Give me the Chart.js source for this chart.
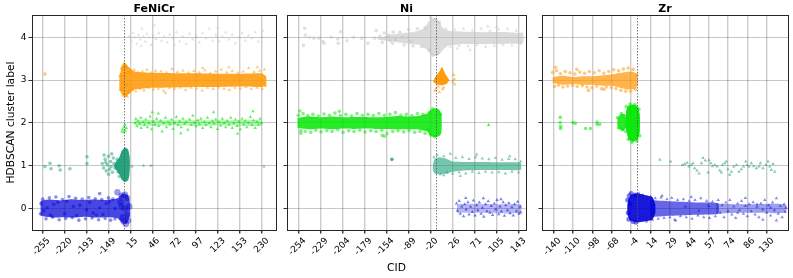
<!DOCTYPE html>
<html>
<head>
<meta charset="utf-8">
<script src="https://cdn.jsdelivr.net/npm/chart.js@4/dist/chart.umd.min.js"></script>
<style>
  body { margin: 0; background: #fff; }
  #wrap { position: relative; width: 793px; height: 278px; }
  canvas { position: absolute; top: 0; }
  #cid { position: absolute; left: 0; width: 793px; top: 260px; text-align: center;
         font: 10.7px "DejaVu Sans"; line-height: 15px; }
</style>
</head>
<body>
<div id="wrap">
  <canvas id="c1" width="280" height="278" style="left:0px"></canvas>
  <canvas id="c2" width="250" height="278" style="left:280px"></canvas>
  <canvas id="c3" width="261" height="278" style="left:532px"></canvas>
  <div id="cid">CID</div>
</div>
<script>
// tick labels (x positions are tick indices 0..n-1)
const feNiCrTicks = ['-255', '-220', '-193', '-149', '15', '46', '72', '97', '123', '153', '230'];
const niTicks = ['-254', '-229', '-204', '-179', '-154', '-89', '-20', '26', '71', '105', '143'];
const zrTicks = ['-140', '-110', '-98', '-68', '-4', '14', '29', '44', '57', '74', '86', '130'];
const yTicks = [0, 1, 2, 3, 4];

// CID = 0 split position, in tick-index units
const feNiCrCut = 3.73;
const niCut = 6.26;
const zrCut = 4.29;

// ---------- FeNiCr ----------
const feBlueCore = [[-0.1,0.18],[0.3,0.21],[0.8,0.19],[1.3,0.22],[1.8,0.2],[2.3,0.21],[2.8,0.2],[3.2,0.22],[3.45,0.25],[3.55,0.32],[3.75,0.35],[3.9,0.3],[3.98,0.15],
  [3.98,-0.15],[3.9,-0.3],[3.75,-0.36],[3.55,-0.3],[3.4,-0.22],[2.9,-0.2],[2.4,-0.21],[1.9,-0.19],[1.4,-0.21],[0.9,-0.2],[0.4,-0.21],[-0.1,-0.17]];
const feBluePts = [[0.0,0.22],[0.15,-0.24],[0.3,0.25],[0.45,-0.2],[0.6,0.27],[0.75,-0.26],[0.9,0.21],[1.05,-0.23],[1.2,0.28],[1.35,-0.21],[1.5,0.24],[1.65,-0.27],[1.8,0.22],[1.95,-0.24],[2.1,0.26],[2.25,-0.22],[2.4,0.23],[2.55,-0.26],[2.6,0.35],[2.7,0.21],[2.85,-0.23],[3.0,0.25],[3.1,-0.27],[3.2,0.22],[3.3,-0.24],[0.05,-0.05],[0.5,0.1],[1.0,-0.12],[1.7,0.08],[2.3,-0.1],[2.9,0.12],[-0.08,0.12],[-0.1,-0.12],[0.2,0.02],[1.4,0.05],[2.0,-0.03],[2.6,0.02],[3.3,0.0],[0.35,-0.15],[0.7,0.15],[1.1,0.17],[1.55,-0.16],[2.15,0.14],[2.45,-0.15],[2.75,-0.14],[3.05,0.16]];
const feBlueBig = [[3.41,0.38],[3.6,0.3],[3.75,0.33],[3.85,0.25],[3.7,-0.3],[3.8,-0.36],[3.9,-0.28],[3.65,-0.2],[3.55,0.15],[3.95,0.05],[3.75,0.0],[3.85,-0.15],[3.6,0.05]];
const feTealCore = [[3.75,1.43],[3.9,1.38],[3.97,1.2],[3.98,1.0],[3.96,0.8],[3.9,0.66],[3.75,0.62],[3.6,0.68],[3.5,0.8],[3.35,0.9],[3.25,1.0],[3.35,1.1],[3.5,1.2],[3.6,1.35]];
const feTealPts = [[0.1,0.98],[0.33,1.06],[0.38,0.93],[0.75,1.0],[0.8,0.9],[1.24,0.93],[2.02,1.21],[2.02,1.05],[2.72,1.05],[2.78,0.95],[2.85,1.15],[2.9,0.88],[2.95,1.02],[3.0,1.22],[3.05,0.92],[3.1,1.1],[3.12,0.98],[3.18,0.85],[3.22,1.18],[3.25,1.05],[2.8,1.25],[3.0,0.8],[3.15,1.28],[2.88,1.08],[3.4,1.15],[3.3,0.95],[3.5,0.75],[3.45,0.85]];
const feTealTri = [[4.08,0.98],[4.6,1.0],[4.94,1.0],[10.1,0.98]];
const feGreenCore = [[4.2,2.06],[5,2.07],[6,2.06],[7,2.07],[8,2.06],[9,2.07],[10,2.06],[10,1.94],[9,1.93],[8,1.94],[7,1.93],[6,1.94],[5,1.93],[4.2,1.94]];
const feGreenTri = [[3.65,1.85],[3.72,1.9],[3.78,1.82],[3.7,1.78],[3.82,1.88],[3.75,1.95],[3.62,1.8],
  [4.2,2.0],[4.25,2.1],[4.3,1.92],[4.35,2.05],[4.42,1.98],[4.48,2.12],[4.5,1.88],[4.58,2.02],[4.65,1.95],[4.7,2.08],[4.78,1.9],[4.85,2.0],[4.9,2.15],[4.97,1.85],[5.05,2.03],[5.12,1.96],[5.2,2.1],[5.28,2.22],[5.3,1.93],[5.38,2.05],[5.45,1.8],[5.52,2.0],[5.6,2.12],[5.65,1.9],[5.72,2.02],[5.8,1.97],[5.88,2.08],[5.95,1.86],[6.02,2.0],[6.1,2.14],[6.18,1.95],[6.25,2.04],[6.32,1.9],[6.4,2.1],[6.48,1.98],[6.55,2.02],[6.62,1.84],[6.7,2.08],[6.78,1.95],[6.85,2.17],[6.92,2.0],[7.0,1.92],[7.08,2.06],[7.15,1.97],[7.22,2.1],[7.3,1.88],[7.38,2.02],[7.45,1.95],[7.52,2.12],[7.6,2.0],[7.68,1.9],[7.75,2.05],[7.82,1.98],[7.9,2.08],[7.98,1.86],[8.05,2.02],[8.12,1.94],[8.2,2.1],[8.28,2.0],[8.35,1.9],[8.42,2.05],[8.5,1.96],[8.58,2.12],[8.65,1.88],[8.72,2.0],[8.8,2.08],[8.88,1.93],[8.95,2.03],[9.02,1.85],[9.1,2.1],[9.18,1.97],[9.25,2.05],[9.32,1.9],[9.4,2.0],[9.48,2.14],[9.55,1.95],[9.62,2.06],[9.7,1.88],[9.78,2.02],[9.85,1.96],[9.92,2.1],[9.98,2.0],[5.0,2.25],[7.8,2.25],[9.6,2.27],[6.3,1.76],[8.9,1.75]];
const feOrangeCore = [[3.5,3.05],[3.6,3.3],[3.75,3.4],[3.9,3.32],[4.2,3.2],[5,3.17],[6,3.16],[7,3.16],[8,3.15],[9,3.15],[10,3.16],[10.2,3.08],
  [10.2,2.88],[10,2.84],[9,2.85],[8,2.84],[7,2.84],[6,2.83],[5,2.82],[4.2,2.78],[3.9,2.66],[3.75,2.62],[3.6,2.68],[3.5,2.8]];
const feOrangeDot = [[0.1,3.14]];
const feOrangeTri = [[4.0,3.22],[4.1,2.78],[4.18,3.25],[4.25,2.74],[4.35,3.18],[4.45,2.8],[4.55,3.2],[4.62,2.76],[4.75,3.24],[4.85,2.82],[4.95,3.17],[5.05,2.78],[5.15,3.22],[5.28,2.8],[5.4,3.2],[5.52,2.75],[5.65,3.18],[5.78,2.82],[5.9,3.26],[6.02,2.79],[6.15,3.19],[6.28,2.83],[6.4,3.22],[6.52,2.77],[6.65,3.17],[6.78,2.82],[6.9,3.21],[7.02,2.8],[7.15,3.18],[7.28,2.76],[7.4,3.23],[7.52,2.82],[7.65,3.16],[7.78,2.79],[7.9,3.2],[8.02,2.83],[8.15,3.24],[8.28,2.8],[8.4,3.18],[8.52,2.77],[8.65,3.21],[8.78,2.82],[8.9,3.17],[9.02,2.8],[9.15,3.2],[9.28,2.84],[9.4,3.28],[9.52,2.79],[9.65,3.19],[9.78,2.82],[9.9,3.22],[10.02,2.8],[10.12,3.25],[10.18,2.86],[8.5,3.3],[7.3,3.28],[5.6,2.7],[9.8,3.3]];
const feOrangeBig = [[3.55,3.1],[3.62,3.28],[3.72,3.37],[3.82,3.3],[3.9,3.18],[3.58,2.78],[3.7,2.65],[3.82,2.63],[3.92,2.72],[3.65,2.95],[3.85,2.9],[3.75,3.1]];
const feGreyTri = [[3.95,4.02],[4.05,3.9],[4.12,4.1],[4.2,4.0],[4.3,3.85],[4.38,4.05],[4.45,3.95],[4.52,4.2],[4.6,4.02],[4.68,3.9],[4.75,4.08],[4.85,4.0],[4.95,3.82],[5.05,4.05],[5.1,4.28],[5.18,3.96],[5.3,4.1],[5.42,3.92],[5.55,4.02],[5.68,3.88],[5.8,4.06],[5.95,3.98],[6.1,4.12],[6.25,3.9],[6.4,4.02],[6.55,3.85],[6.7,4.08],[6.85,3.95],[7.0,4.04],[7.15,3.88],[7.3,4.1],[7.45,3.98],[7.6,4.2],[7.75,3.92],[7.9,4.05],[8.05,3.9],[8.2,4.02],[8.35,4.12],[8.5,3.95],[8.65,4.06],[8.8,3.86],[8.95,4.0],[9.1,4.1],[9.25,3.92],[9.4,4.04],[9.55,3.98],[9.7,4.12],[9.85,3.9],[10.0,4.02],[10.05,4.15],[4.5,3.8],[6.0,3.82],[8.0,4.22]];

// ---------- Ni ----------
const niGreyCore = [[3.6,3.98],[4.2,4.06],[4.8,4.1],[5.4,4.14],[5.75,4.22],[5.9,4.36],[6.05,4.45],[6.25,4.45],[6.4,4.36],[6.55,4.22],[6.8,4.15],[7.5,4.13],[8.5,4.12],[9.5,4.12],[10.2,4.08],
  [10.2,3.86],[9.5,3.85],[8.5,3.84],[7.5,3.84],[6.8,3.8],[6.55,3.7],[6.4,3.6],[6.2,3.56],[6.0,3.6],[5.85,3.7],[5.5,3.82],[4.8,3.86],[4.2,3.9],[3.6,3.94]];
const niGreyDots = [[0.27,4.21],[0.3,4.05],[0.22,3.81],[0.69,3.98],[0.92,3.98],[1.1,3.9],[1.15,3.86],[1.48,4.0],[1.78,3.96],[1.8,3.86],[1.91,4.13],[2.2,3.92],[2.87,3.98],[3.15,3.86],[3.53,4.16],[3.45,3.98],[4.0,4.0],[4.1,4.05],[4.15,3.92],[4.27,3.86],[3.7,4.02],[2.5,4.0],[0.5,4.0],
  [4.6,4.12],[4.8,3.82],[5.0,4.18],[5.2,3.8],[5.4,4.2],[5.6,3.78],[5.75,4.22],[4.7,4.0],[4.4,3.95],[6.0,4.45],[6.2,4.4],[6.1,3.58],[6.3,3.62],[5.95,3.7],[6.4,4.35],[3.8,3.88],[4.3,4.12],[3.9,4.1],[5.1,3.9]];
const niGreyTri = [[6.7,4.2],[6.9,3.78],[7.1,4.18],[7.3,3.8],[7.5,4.2],[7.7,3.79],[7.9,4.16],[8.1,3.82],[8.3,4.2],[8.5,3.78],[8.7,4.15],[8.9,3.8],[9.1,4.18],[9.3,3.82],[9.5,4.2],[9.7,3.8],[9.9,4.15],[10.1,3.85],[10.15,4.1],[7.8,3.7],[8.6,4.25],[7.2,3.74],[9.0,4.24]];
const niOrangeCore = [[6.52,3.32],[6.7,3.12],[6.85,3.0],[6.75,2.92],[6.55,2.88],[6.3,2.9],[6.12,2.96],[6.25,3.1],[6.4,3.2]];
const niOrangeTri = [[6.25,2.8],[6.4,2.72],[6.55,2.78],[6.35,2.85],[6.6,2.83],[6.2,2.75],[7.05,3.12],[7.08,3.02],[7.02,2.95],[7.1,2.9]];
const niGreenCore = [[-0.05,2.12],[0.5,2.15],[1,2.13],[1.5,2.15],[2,2.13],[2.5,2.14],[3,2.14],[3.5,2.13],[4,2.14],[4.5,2.16],[5,2.15],[5.5,2.17],[5.85,2.22],[6.0,2.3],[6.2,2.34],[6.4,2.3],[6.5,2.2],
  [6.5,1.8],[6.4,1.7],[6.2,1.66],[6.0,1.7],[5.85,1.8],[5.5,1.84],[5,1.85],[4.5,1.85],[4,1.86],[3.5,1.86],[3,1.87],[2.5,1.86],[2,1.87],[1.5,1.85],[1,1.87],[0.5,1.85],[-0.05,1.88]];
const niGreenDots = [[-0.02,2.18],[0.1,1.82],[0.2,2.22],[0.3,1.8],[0.42,2.17],[0.55,1.78],[0.65,2.2],[0.78,1.83],[0.9,2.16],[1.02,1.79],[1.15,2.21],[1.28,1.82],[1.4,2.18],[1.52,1.8],[1.65,2.23],[1.78,1.84],[1.9,2.17],[2.02,1.78],[2.15,2.2],[2.28,1.82],[2.4,2.16],[2.52,1.8],[2.65,2.22],[2.78,1.83],[2.9,2.18],[3.02,1.79],[3.15,2.2],[3.28,1.82],[3.4,2.17],[3.52,1.8],[3.65,2.22],[3.78,1.83],[3.9,2.18],[4.02,1.75],[4.15,2.2],[4.28,1.8],[4.4,2.24],[4.52,1.82],[4.65,2.18],[4.78,1.79],[4.9,2.2],[5.02,1.82],[5.15,2.17],[5.28,1.78],[5.4,2.22],[5.52,1.8],[5.65,2.2],[5.75,1.76],[0.05,2.28],[1.85,2.27],[3.8,1.71],[3.9,1.69],[0.1,1.76],
  [5.95,2.25],[6.1,2.33],[6.3,2.3],[6.45,2.2],[6.0,1.72],[6.2,1.68],[6.4,1.75],[5.9,1.85]];
const niGreenTri = [[8.64,1.95]];
const niTealDot = [[4.24,1.15]];
const niTealCore = [[6.1,1.02],[6.18,1.16],[6.4,1.2],[6.75,1.16],[7.0,1.1],[7.5,1.09],[8.5,1.09],[9.5,1.08],[10.1,1.07],[10.1,0.9],[9.5,0.9],[8.5,0.9],[7.5,0.89],[7.0,0.86],[6.75,0.82],[6.4,0.8],[6.18,0.82],[6.1,0.9]];
const niTealTri = [[6.15,1.2],[6.3,1.25],[6.45,0.8],[6.6,1.22],[6.75,0.84],[6.9,1.28],[7.0,0.82],[7.15,1.18],[7.3,0.85],[7.45,1.2],[7.6,0.82],[7.75,1.16],[7.9,0.86],[8.05,1.2],[8.2,0.83],[8.35,1.17],[8.5,0.86],[8.65,1.15],[8.8,0.84],[8.95,1.18],[9.1,0.85],[9.25,1.14],[9.4,0.82],[9.55,1.16],[9.7,0.86],[9.85,1.15],[10.0,0.84],[10.1,1.1],[7.35,0.76],[8.1,1.26],[9.6,1.22],[6.6,0.78]];
const niBlueCore = [[7.2,0.1],[8,0.11],[9,0.1],[10.1,0.1],[10.1,-0.1],[9,-0.11],[8,-0.1],[7.2,-0.1]];
const niBlueTri = [[7.18,0.12],[7.22,-0.05],[7.3,0.18],[7.35,-0.12],[7.42,0.05],[7.5,-0.18],[7.55,0.1],[7.62,-0.02],[7.7,0.15],[7.75,-0.14],[7.82,0.04],[7.9,-0.08],[7.95,0.19],[8.02,-0.16],[8.1,0.08],[8.15,-0.04],[8.22,0.14],[8.3,-0.12],[8.36,0.02],[8.42,-0.19],[8.5,0.1],[8.56,-0.06],[8.62,0.17],[8.7,-0.1],[8.76,0.06],[8.82,-0.15],[8.9,0.12],[8.96,-0.02],[9.02,0.2],[9.1,-0.13],[9.16,0.05],[9.22,-0.07],[9.3,0.15],[9.36,-0.17],[9.42,0.08],[9.5,-0.04],[9.56,0.13],[9.62,-0.11],[9.7,0.03],[9.76,-0.16],[9.82,0.1],[9.9,-0.06],[9.96,0.16],[10.02,-0.12],[10.08,0.04],[10.1,-0.09],[7.6,0.25],[8.4,0.24],[9.2,0.22]];

// ---------- Zr ----------
const zrOrangeCore = [[-0.05,3.07],[0.5,3.1],[1,3.07],[1.5,3.09],[2,3.09],[2.5,3.11],[3,3.13],[3.5,3.17],[4,3.2],[4.3,3.15],[4.35,3.0],
  [4.35,2.88],[4.2,2.8],[3.8,2.78],[3.3,2.84],[3,2.87],[2.5,2.87],[2,2.89],[1.5,2.89],[1,2.91],[0.5,2.89],[-0.05,2.93]];
const zrOrangeDots = [[-0.05,3.18],[0.05,2.85],[0.15,3.22],[0.25,2.88],[0.35,3.15],[0.48,2.84],[0.6,3.2],[0.72,2.86],[0.85,3.17],[0.98,2.88],[1.1,3.14],[1.22,2.85],[1.35,3.19],[1.48,2.87],[1.6,3.16],[1.72,2.84],[1.85,3.2],[1.98,2.82],[2.1,3.17],[2.22,2.86],[2.35,3.22],[2.48,2.8],[2.6,3.16],[2.72,2.84],[2.85,3.2],[2.98,2.82],[3.1,3.24],[3.22,2.8],[3.35,3.22],[3.48,2.76],[3.6,3.26],[3.72,2.74],[3.85,3.28],[3.98,2.74],[4.1,3.25],[4.22,2.78],[4.3,3.12],[1.8,2.76],[2.6,2.78],[0.1,3.3],[1.2,3.25]];
const zrGreenCore = [[3.75,2.3],[3.85,2.4],[4.1,2.43],[4.35,2.38],[4.45,2.2],[4.45,1.8],[4.35,1.62],[4.1,1.56],[3.9,1.6],[3.8,1.72],[3.72,1.9],[3.72,2.1]];
const zrGreenSide = [[3.3,2.1],[3.45,2.2],[3.7,2.2],[3.75,1.9],[3.6,1.82],[3.4,1.85],[3.28,1.95]];
const zrGreenDots = [[0.34,2.13],[0.34,2.01],[0.36,1.92],[0.36,1.87],[1.0,2.01],[1.12,1.99],[1.65,1.87],[1.9,1.87],[2.24,2.02],[2.38,1.97],[2.24,1.97],
  [3.3,2.12],[3.35,1.88],[3.5,2.22],[3.55,1.84],[3.75,2.38],[3.95,2.44],[4.2,2.43],[4.4,2.32],[4.45,1.7],[4.3,1.58],[4.05,1.55],[3.85,1.62],[3.72,1.8]];
const zrTealTri = [[5.48,1.14],[6.04,1.1],[6.65,1.02],[6.77,1.04],[6.89,1.07],[6.99,0.98],[7.11,1.02],[7.2,1.06],[7.28,0.94],[7.4,0.89],[7.51,0.82],[7.63,1.06],[7.71,1.18],[7.83,1.12],[7.97,0.84],[8.02,1.13],[8.11,1.06],[8.2,0.99],[8.32,1.02],[8.44,0.98],[8.58,0.89],[8.66,0.84],[8.71,1.02],[8.83,1.06],[8.92,1.1],[9.0,0.92],[9.09,0.79],[9.18,0.86],[9.3,0.98],[9.44,1.02],[9.57,0.86],[9.69,0.92],[9.81,0.98],[9.92,1.1],[9.99,1.02],[10.09,0.98],[10.21,1.06],[10.33,0.99],[10.47,0.94],[10.61,0.98],[10.67,1.06],[10.81,0.94],[10.95,1.02],[11.07,1.1],[11.16,0.98],[11.24,0.9],[11.33,1.04],[11.42,0.86]];
const zrBlueBlob = [[3.85,0.22],[4.0,0.32],[4.3,0.36],[4.7,0.32],[5.1,0.27],[5.25,0.1],[5.25,-0.1],[5.1,-0.26],[4.7,-0.3],[4.3,-0.32],[3.95,-0.28],[3.82,-0.15],[3.8,0.05]];
const zrBlueBand = [[5.0,0.2],[6.0,0.17],[7.0,0.15],[8.0,0.14],[8.5,0.12],[8.5,-0.12],[8.0,-0.14],[7.0,-0.15],[6.0,-0.17],[5.0,-0.2]];
const zrBlueTail = [[8.4,0.12],[9.5,0.1],[10.5,0.1],[11.5,0.11],[12.0,0.08],[12.0,-0.08],[11.5,-0.11],[10.5,-0.1],[9.5,-0.1],[8.4,-0.12]];
const zrBlueDots = [[3.82,0.2],[3.9,0.3],[4.0,0.35],[4.1,-0.3],[3.88,-0.25],[3.95,0.1],[3.85,-0.1],[4.2,0.32],[4.25,-0.32]];
const zrBlueTri = [[4.4,0.36],[4.6,0.32],[4.8,-0.3],[5.0,0.28],[5.1,-0.26],[5.25,0.24],[5.4,-0.24],[5.55,0.26],[5.7,-0.22],[5.85,0.22],[6.0,-0.2],[6.1,0.25],[6.25,-0.26],[6.4,0.2],[6.55,-0.18],[6.7,0.22],[6.85,-0.2],[7.0,0.18],[7.15,-0.24],[7.3,0.2],[7.45,-0.16],[7.6,0.24],[7.75,-0.2],[7.9,0.18],[8.05,-0.22],[8.2,0.16],[8.35,-0.18],[8.5,0.2],[8.6,-0.1],[8.7,0.08],[8.8,-0.2],[8.9,0.14],[9.0,-0.06],[9.1,0.2],[9.2,-0.14],[9.3,0.05],[9.4,-0.22],[9.5,0.12],[9.6,-0.04],[9.7,0.18],[9.8,-0.12],[9.9,0.06],[10.0,-0.18],[10.1,0.1],[10.2,-0.06],[10.3,0.15],[10.4,-0.14],[10.5,0.04],[10.6,-0.2],[10.7,0.12],[10.8,-0.02],[10.9,0.2],[11.0,-0.1],[11.1,0.08],[11.2,-0.16],[11.3,0.14],[11.4,-0.04],[11.5,0.24],[11.6,-0.12],[11.7,0.06],[11.8,-0.2],[11.9,0.1],[11.95,-0.08],[12.0,0.02],[11.5,-0.28],[8.0,0.06],[7.5,-0.05],[6.8,0.04],[9.5,-0.1],[10.5,0.1],[11.2,0.02],[5.6,0.3],[6.3,-0.28],[7.1,0.27],[9.9,0.25],[10.8,-0.26]];

// cluster colours
const BLUE = '0,0,215', TEAL = '27,158,119', GREEN = '0,232,0', ORANGE = '255,150,0', GREY = '195,195,195';

const toXY = arr => arr.map(([x, y]) => ({ x, y }));

function blob(pts, rgb, a) {
  return { data: toXY(pts), showLine: true, fill: 'shape', tension: 0.15,
    backgroundColor: `rgba(${rgb},${a})`, borderColor: 'rgba(0,0,0,0)', borderWidth: 0,
    pointRadius: 0, order: 2 };
}
function dots(pts, rgb, a, style, r) {
  return { data: toXY(pts), backgroundColor: `rgba(${rgb},${a})`, borderWidth: 0,
    pointStyle: style, pointRadius: r, order: 1 };
}

const framePlugin = {
  id: 'frame',
  afterDatasetsDraw(chart, args, opts) {
    const { ctx, chartArea: a, scales: { x } } = chart;
    const px = Math.round(x.getPixelForValue(opts.cut)) + 0.5;
    ctx.save();
    ctx.strokeStyle = '#555';
    ctx.lineWidth = 0.8;
    ctx.setLineDash([1.5, 1.5]);
    ctx.beginPath();
    ctx.moveTo(px, a.top);
    ctx.lineTo(px, a.bottom);
    ctx.stroke();
    ctx.setLineDash([]);
    ctx.strokeStyle = '#262626';
    ctx.lineWidth = 1;
    ctx.strokeRect(Math.round(a.left) + 0.5, Math.round(a.top) + 0.5, Math.round(a.right - a.left), Math.round(a.bottom - a.top));
    ctx.restore();
  }
};

Chart.defaults.font.family = 'DejaVu Sans';
Chart.defaults.color = '#000';

function makeChart(id, title, ticks, xMin, xMax, cut, yW, padR, showY, datasets) {
  return new Chart(document.getElementById(id), {
    type: 'scatter',
    data: { datasets: datasets },
    options: {
      responsive: false,
      animation: false,
      layout: { padding: { left: 0, right: padR, top: 0, bottom: 0 } },
      plugins: { legend: { display: false }, tooltip: { enabled: false }, frame: { cut: cut } },
      scales: {
        x: {
          type: 'linear', min: xMin, max: xMax,
          afterBuildTicks: s => { s.ticks = ticks.map((t, i) => ({ value: i })); },
          afterFit: s => { s.height = 48; },
          border: { display: false },
          grid: { color: 'rgba(0,0,0,0.2)', lineWidth: 1.4, tickLength: 3.5, tickColor: '#333' },
          ticks: { autoSkip: false, minRotation: 45, maxRotation: 45, padding: 2, labelOffset: 6,
            font: { size: 9 }, callback: (v, i) => ticks[i] }
        },
        top: {
          type: 'linear', position: 'top', min: xMin, max: xMax,
          afterFit: s => { s.height = 15; },
          border: { display: false },
          grid: { display: false },
          ticks: { display: false },
          title: { display: true, text: title, font: { size: 11, weight: 'bold' }, padding: { top: 3, bottom: 0 } }
        },
        y: {
          min: -0.5, max: 4.52,
          afterBuildTicks: s => { s.ticks = yTicks.map(v => ({ value: v })); },
          afterFit: s => { s.width = yW; },
          border: { display: false },
          grid: { color: 'rgba(0,0,0,0.22)', lineWidth: 1, tickLength: 3.5, tickColor: '#333' },
          ticks: { display: showY, padding: 2, font: { size: 9 } },
          title: { display: showY, text: 'HDBSCAN cluster label', font: { size: 10.7 }, padding: { top: 4.5, bottom: 0 } }
        }
      }
    },
    plugins: [framePlugin]
  });
}

makeChart('c1', 'FeNiCr', feNiCrTicks, -0.49, 10.65, feNiCrCut, 32, 2, true, [
  dots(feBluePts, BLUE, 0.45, 'circle', 1.8),
  dots(feBlueBig, BLUE, 0.4, 'circle', 3.2),
  dots(feTealPts, TEAL, 0.5, 'circle', 1.8),
  dots(feTealTri, TEAL, 0.5, 'triangle', 2),
  dots(feGreenTri, GREEN, 0.6, 'triangle', 2),
  dots(feOrangeDot, ORANGE, 0.5, 'circle', 1.8),
  dots(feOrangeTri, ORANGE, 0.5, 'triangle', 2),
  dots(feOrangeBig, ORANGE, 0.6, 'triangle', 3),
  dots(feGreyTri, GREY, 0.45, 'triangle', 2),
  blob(feBlueCore, BLUE, 0.72),
  blob(feTealCore, TEAL, 0.95),
  blob(feGreenCore, GREEN, 0.3),
  blob(feOrangeCore, ORANGE, 0.85)
]);

makeChart('c2', 'Ni', niTicks, -0.53, 10.34, niCut, 7, 3, false, [
  dots(niGreyDots, GREY, 0.5, 'circle', 1.8),
  dots(niGreyTri, GREY, 0.5, 'triangle', 2),
  dots(niOrangeTri, ORANGE, 0.5, 'triangle', 2.2),
  dots(niGreenDots, GREEN, 0.5, 'circle', 1.8),
  dots(niGreenTri, GREEN, 0.7, 'triangle', 2),
  dots(niTealDot, TEAL, 0.8, 'circle', 1.8),
  dots(niTealTri, TEAL, 0.5, 'triangle', 2),
  dots(niBlueTri, BLUE, 0.5, 'triangle', 2),
  blob(niGreyCore, GREY, 0.6),
  blob(niOrangeCore, ORANGE, 0.95),
  blob(niGreenCore, GREEN, 0.85),
  blob(niTealCore, TEAL, 0.6),
  blob(niBlueCore, BLUE, 0.28)
]);

makeChart('c3', 'Zr', zrTicks, -0.6, 12.1, zrCut, 10, 5, false, [
  dots(zrOrangeDots, ORANGE, 0.5, 'circle', 1.8),
  dots(zrGreenDots, GREEN, 0.55, 'circle', 1.8),
  dots(zrTealTri, TEAL, 0.55, 'triangle', 2),
  dots(zrBlueDots, BLUE, 0.5, 'circle', 2.5),
  dots(zrBlueTri, BLUE, 0.45, 'triangle', 2),
  blob(zrOrangeCore, ORANGE, 0.7),
  blob(zrGreenCore, GREEN, 0.95),
  blob(zrGreenSide, GREEN, 0.85),
  blob(zrBlueBlob, BLUE, 0.9),
  blob(zrBlueBand, BLUE, 0.6),
  blob(zrBlueTail, BLUE, 0.38)
]);
</script>
</body>
</html>
